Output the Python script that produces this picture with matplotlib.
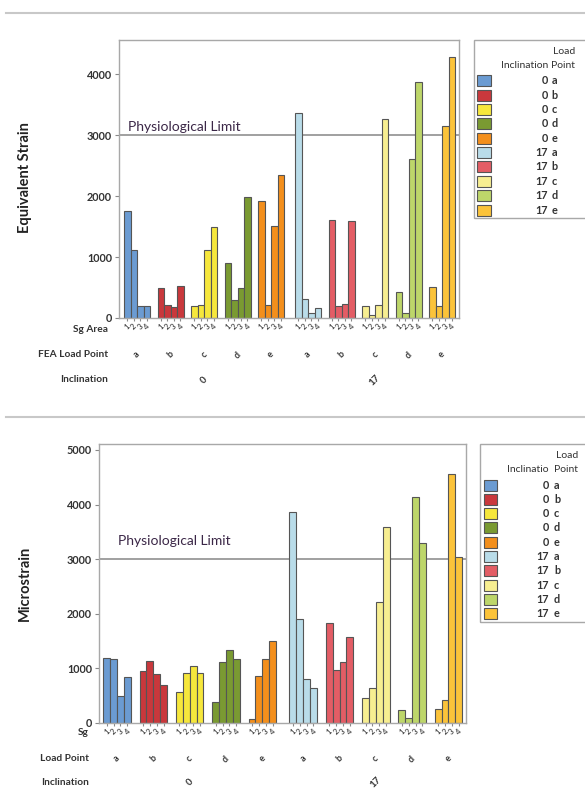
import matplotlib
matplotlib.use("Agg")
import matplotlib.pyplot as plt
from matplotlib.patches import Rectangle
from matplotlib.lines import Line2D

# ===== DATA =====
load_points = ["a", "b", "c", "d", "e"]
inclinations = ["0", "17"]
sg_areas = ["1", "2", "3", "4"]

# one row per (inclination, load point), 4 strain gauge areas each
fea_strain = [
    [1760, 1110, 200, 200],
    [500, 220, 180, 530],
    [200, 220, 1110, 1500],
    [900, 300, 500, 1990],
    [1920, 220, 1510, 2350],
    [3360, 310, 90, 165],
    [1600, 200, 235, 1590],
    [200, 55, 220, 3265],
    [425, 90, 2600, 3865],
    [515, 200, 3155, 4285],
]
microstrain = [
    [1180, 1160, 490, 845],
    [945, 1135, 900, 700],
    [570, 915, 1040, 915],
    [385, 1110, 1330, 1170],
    [60, 860, 1160, 1495],
    [3865, 1900, 800, 645],
    [1820, 960, 1110, 1580],
    [450, 645, 2215, 3590],
    [230, 90, 4140, 3290],
    [250, 410, 4555, 3040],
]
colors = ["#6b9bd2", "#c9383c", "#f6e73c", "#7a9a32", "#f38f1c",
          "#b9dce9", "#e35d65", "#f7ee91", "#bdd66a", "#fbc33a"]
phys_limit = 3000

# ===== STYLE =====
W, H = 585, 791
plt.rcParams["font.family"] = ["Lato", "DejaVu Sans"]
TXT = "#333333"
fig = plt.figure(figsize=(W / 100, H / 100), dpi=100)


def px(x, y):
    return x / W, 1 - y / H


def panel(rect, data, ytop, yticks, pitch, extra, x0, xmax,
          row_names, row_off, name_x, limit_xy):
    ax = fig.add_axes(rect)
    pos, labels, centers = [], [], []
    for g, vals in enumerate(data):
        start = x0 + g * pitch + (extra if g >= len(load_points) else 0)
        xs = [start + j + 0.5 for j in range(len(vals))]
        ax.bar(xs, vals, width=1.0, color=colors[g], edgecolor="#555555",
               linewidth=0.8, zorder=2)
        pos += xs
        labels += sg_areas
        centers.append(sum(xs) / len(xs))
    ax.set_xlim(0, xmax)
    ax.set_ylim(0, ytop)
    ax.set_yticks(yticks)
    ax.set_yticklabels([str(t) for t in yticks], fontsize=7.8,
                       fontweight="bold", color=TXT)
    ax.set_xticks(pos)
    ax.set_xticklabels(labels, rotation=45, fontsize=5.5, color="#222222")
    ax.tick_params(axis="x", length=2.5, pad=1, color="#888888")
    ax.tick_params(axis="y", length=3, pad=2, color="#888888")
    for s in ax.spines.values():
        s.set_color("#a8a8a8")
        s.set_linewidth(1.0)

    ax.axhline(phys_limit, color="#999999", lw=1.3, zorder=1)
    ax.text(limit_xy[0], limit_xy[1], "Physiological Limit", transform=ax.get_yaxis_transform(),
            fontsize=10, color="#3b2747", va="center", ha="left")

    # load point row
    for c, lp in zip(centers, load_points * 2):
        ax.annotate(lp, (c, 0), xycoords=("data", "axes fraction"),
                    xytext=(0, -row_off[1]), textcoords="offset points",
                    rotation=45, fontsize=6.5, fontweight="bold",
                    ha="center", va="center", color=TXT)
    # inclination row
    for k, inc in enumerate(inclinations):
        c = centers[k * len(load_points) + 2]
        ax.annotate(inc, (c, 0), xycoords=("data", "axes fraction"),
                    xytext=(0, -row_off[2]), textcoords="offset points",
                    rotation=45, fontsize=7, fontweight="bold",
                    ha="center", va="center", color=TXT)
    for name, off in zip(row_names, row_off):
        ax.annotate(name, (name_x, 0), xycoords="axes fraction",
                    xytext=(0, -off), textcoords="offset points",
                    fontsize=7.3, fontweight="bold", ha="right", va="center", color=TXT)
    return ax


# top panel: FEA equivalent strain
panel([119 / W, 1 - 318 / H, 340 / W, 278 / H], fea_strain,
      4560, [0, 1000, 2000, 3000, 4000], 5.154, 0.54, 0.77, 52.3,
      ["Sg Area", "FEA Load Point", "Inclination"], [8.0, 26.6, 44.6], -0.032,
      (0.026, 3130))
fig.text(*px(25, 178), "Equivalent Strain", rotation=90, fontsize=10.5,
         fontweight="bold", ha="center", va="center", color="#222222")

# bottom panel: measured microstrain
panel([99 / W, 1 - 722.7 / H, 366.7 / W, 278.7 / H], microstrain,
      5110, [0, 1000, 2000, 3000, 4000, 5000], 5.3, 0.66, 0.63, 53.5,
      ["Sg", "Load Point", "Inclination"], [7.4, 26.1, 42.7], -0.027,
      (0.052, 3340))
fig.text(*px(25, 583), "Microstrain", rotation=90, fontsize=10.5,
         fontweight="bold", ha="center", va="center", color="#222222")


def legend(box, head1, head2, num_x, let_x, patch_x, y0, dy, load_y, head_y):
    x1, y1, x2, y2 = box
    fig.patches.append(Rectangle(px(x1, y2), (x2 - x1) / W, (y2 - y1) / H,
                                 transform=fig.transFigure, fill=False,
                                 edgecolor="#a8a8a8", lw=1.0))
    fig.text(*px(let_x + 2, load_y), "Load", fontsize=7.5, ha="left", va="center", color=TXT)
    fig.text(*px(num_x, head_y), head1, fontsize=7.5, ha="right", va="center", color=TXT)
    fig.text(*px(let_x, head_y), head2, fontsize=7.5, ha="left", va="center", color=TXT)
    for i, col in enumerate(colors):
        y = y0 + i * dy
        inc = inclinations[i // len(load_points)]
        lp = load_points[i % len(load_points)]
        fig.patches.append(Rectangle(px(patch_x, y + 5.5), 13.5 / W, 11 / H,
                                     transform=fig.transFigure, facecolor=col,
                                     edgecolor="#555555", lw=0.8))
        fig.text(*px(num_x, y), inc, fontsize=7.8, fontweight="bold",
                 ha="right", va="center", color=TXT)
        fig.text(*px(let_x, y), lp, fontsize=7.8, fontweight="bold",
                 ha="left", va="center", color=TXT)


legend((474, 40.5, 590, 218), "Inclination", "Point", 548, 551.5, 477, 80.7, 14.37, 51.7, 65)
legend((480, 444, 590, 622), "Inclinatio", "Point", 549, 554, 484, 485, 14.3, 455, 470)

# separators between the two figures
for yy in (12.5, 417):
    fig.add_artist(Line2D([6 / W, 1], [1 - yy / H] * 2, transform=fig.transFigure,
                          color="#c8c8c8", lw=1.5))

fig.savefig("out.png", dpi=100, facecolor="white")
